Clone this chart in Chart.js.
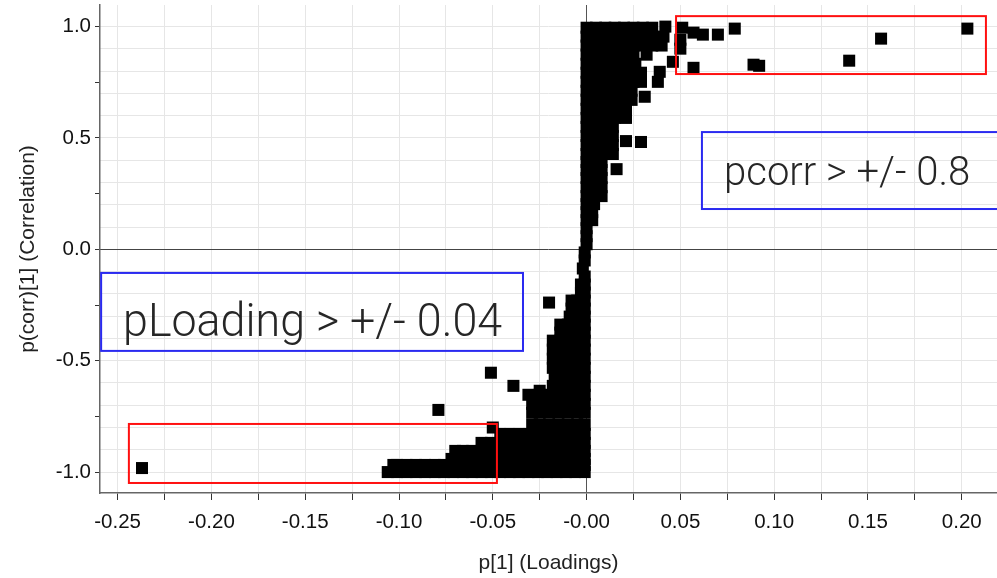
<!DOCTYPE html>
<html>
<head>
<meta charset="utf-8">
<script src="https://cdn.jsdelivr.net/npm/chart.js@4.4.0/dist/chart.umd.min.js"></script>
<style>
    html, body { margin: 0; padding: 0; background: #fff; }
    #wrap { width: 997px; height: 578px; }
</style>
</head>
<body>
<div id="wrap"><canvas id="loadings" width="997" height="578"></canvas></div>
<script>
// axis ranges (p[1] loadings / p(corr)[1] correlation)
var xRange = [-0.2594, 0.2188];
var yRange = [-1.094, 1.097];

// dense upper branch: one y per row, the x of the squares in it
var upperRowY = [0.995, 0.955, 0.915, 0.874, 0.833, 0.793, 0.752, 0.712, 0.671, 0.631, 0.590, 0.550, 0.509,
    0.468, 0.428, 0.392, 0.356, 0.320, 0.279, 0.239, 0.203, 0.167, 0.131, 0.095, 0.059, 0.023];
var upperRowX = [
    [0.000, 0.005, 0.010, 0.015, 0.020, 0.025, 0.030, 0.035],
    [0.000, 0.005, 0.010, 0.015, 0.020, 0.025, 0.030, 0.035, 0.041],
    [0.000, 0.005, 0.010, 0.015, 0.020, 0.025, 0.030, 0.035, 0.040],
    [0.000, 0.005, 0.010, 0.015, 0.020, 0.025, 0.032],
    [0.000, 0.005, 0.010, 0.015, 0.020, 0.026],
    [0.000, 0.005, 0.010, 0.015, 0.020, 0.025, 0.029],
    [0.000, 0.005, 0.010, 0.015, 0.020, 0.025, 0.029],
    [0.000, 0.005, 0.010, 0.015, 0.020, 0.024],
    [0.000, 0.005, 0.010, 0.015, 0.020, 0.024],
    [0.000, 0.005, 0.010, 0.015, 0.021],
    [0.000, 0.005, 0.010, 0.015, 0.021],
    [0.000, 0.005, 0.010, 0.014],
    [0.000, 0.005, 0.010, 0.014],
    [0.000, 0.005, 0.010, 0.014],
    [0.000, 0.005, 0.010, 0.014],
    [0.000, 0.004, 0.008],
    [0.000, 0.004, 0.008],
    [0.000, 0.004, 0.008],
    [0.000, 0.004, 0.008],
    [0.000, 0.004, 0.008],
    [0.000, 0.004],
    [0.000, 0.003],
    [0.000, 0.003],
    [0.000],
    [0.000],
    [0.000]
];

// dense lower branch
var lowerRowY = [-0.014, -0.050, -0.086, -0.122, -0.158, -0.194, -0.230, -0.266, -0.302, -0.338, -0.374,
    -0.410, -0.450, -0.491, -0.532, -0.572, -0.613, -0.653, -0.694, -0.734, -0.788, -0.829, -0.869,
    -0.905, -0.941, -0.968, -1.000];
var lowerRowX = [
    [-0.001],
    [-0.001],
    [-0.002],
    [-0.001],
    [-0.001, -0.003],
    [-0.001, -0.003],
    [-0.001, -0.005, -0.008],
    [-0.001, -0.005, -0.008],
    [-0.001, -0.005, -0.009],
    [-0.001, -0.005, -0.010, -0.014],
    [-0.001, -0.005, -0.010, -0.014],
    [-0.001, -0.005, -0.010, -0.014, -0.018],
    [-0.001, -0.005, -0.010, -0.014, -0.018],
    [-0.001, -0.005, -0.010, -0.014, -0.018],
    [-0.001, -0.005, -0.010, -0.014, -0.018],
    [-0.001, -0.005, -0.010, -0.014, -0.017],
    [-0.001, -0.005, -0.010, -0.014, -0.018],
    [-0.001, -0.005, -0.010, -0.015, -0.020, -0.025, -0.031],
    [-0.001, -0.005, -0.010, -0.015, -0.020, -0.025, -0.029],
    [-0.001, -0.005, -0.010, -0.015, -0.020, -0.025, -0.029],
    [-0.001, -0.005, -0.010, -0.015, -0.020, -0.025, -0.029],
    [-0.001, -0.006, -0.011, -0.016, -0.021, -0.026, -0.031, -0.036, -0.041, -0.046],
    [-0.001, -0.006, -0.011, -0.016, -0.021, -0.026, -0.031, -0.036, -0.041, -0.046, -0.051, -0.056],
    [-0.001, -0.006, -0.011, -0.016, -0.021, -0.026, -0.031, -0.036, -0.041, -0.046, -0.051, -0.056,
        -0.061, -0.066, -0.070],
    [-0.001, -0.006, -0.011, -0.016, -0.021, -0.026, -0.031, -0.036, -0.041, -0.046, -0.051, -0.056,
        -0.061, -0.066, -0.072],
    [-0.001, -0.006, -0.011, -0.016, -0.021, -0.026, -0.031, -0.036, -0.041, -0.046, -0.051, -0.056,
        -0.061, -0.066, -0.071, -0.076, -0.081, -0.086, -0.091, -0.096, -0.101, -0.103],
    [-0.001, -0.006, -0.011, -0.016, -0.021, -0.026, -0.031, -0.036, -0.041, -0.046, -0.051, -0.056,
        -0.061, -0.066, -0.071, -0.076, -0.081, -0.086, -0.091, -0.096, -0.101, -0.106]
];

// isolated squares [p1, pcorr]
var outliersTop = [
    [0.203, 0.991], [0.157, 0.946], [0.140, 0.847], [0.092, 0.824], [0.089, 0.829], [0.079, 0.991],
    [0.070, 0.964], [0.062, 0.964], [0.057, 0.973], [0.057, 0.815], [0.051, 0.995], [0.050, 0.941],
    [0.050, 0.901], [0.046, 0.842], [0.042, 1.000], [0.039, 0.797], [0.038, 0.752], [0.031, 0.685],
    [0.021, 0.608], [0.021, 0.486], [0.029, 0.482], [0.016, 0.360]
];
var outliersBottom = [
    [-0.237, -0.982], [-0.079, -0.721], [-0.051, -0.554], [-0.039, -0.613], [-0.025, -0.635],
    [-0.020, -0.239], [-0.050, -0.800]
];

// threshold frames and captions, in data units
var noteBoxes = [
    {x0: 0.0477, x1: 0.2129, y0: 1.047, y1: 0.787, color: '#ff1010'},
    {x0: 0.0615, x1: 0.2300, y0: 0.5265, y1: 0.181, color: '#2a2af0'},
    {x0: -0.244, x1: -0.0478, y0: -0.784, y1: -1.049, color: '#ff1010'},
    {x0: -0.2588, x1: -0.0339, y0: -0.106, y1: -0.456, color: '#2a2af0'}
];
var noteTexts = [
    {text: 'pLoading > +/- 0.04', x: -0.2471, y: -0.389, size: 46, width: 379},
    {text: 'pcorr > +/- 0.8', x: 0.0733, y: 0.289, size: 40, width: 270}
];

var points = [];
upperRowY.forEach(function (y, i) {
    upperRowX[i].forEach(function (x) { points.push({x: x, y: y}); });
});
lowerRowY.forEach(function (y, i) {
    lowerRowX[i].forEach(function (x) { points.push({x: x, y: y}); });
});
outliersTop.concat(outliersBottom).forEach(function (p) {
    points.push({x: p[0], y: p[1]});
});

var boxNotes = {
    id: 'boxNotes',
    afterDatasetsDraw: function (chart) {
        var ctx = chart.ctx;
        var xs = chart.scales.x, ys = chart.scales.y;
        ctx.save();
        noteBoxes.forEach(function (b) {
            var l = xs.getPixelForValue(b.x0), r = xs.getPixelForValue(b.x1);
            var t = ys.getPixelForValue(b.y0), btm = ys.getPixelForValue(b.y1);
            ctx.strokeStyle = b.color;
            ctx.lineWidth = 2;
            ctx.strokeRect(l, t, r - l, btm - t);
        });
        ctx.fillStyle = '#262626';
        ctx.textBaseline = 'alphabetic';
        ctx.textAlign = 'left';
        noteTexts.forEach(function (n) {
            ctx.font = '300 ' + n.size + 'px Roboto, "Open Sans", sans-serif';
            ctx.fillText(n.text, xs.getPixelForValue(n.x), ys.getPixelForValue(n.y), n.width);
        });
        ctx.restore();
    }
};

Chart.defaults.font.family = '"Liberation Sans", Arial, sans-serif';

function isMultiple(v, step) {
    var q = v / step;
    return Math.abs(q - Math.round(q)) < 1e-6;
}

new Chart(document.getElementById('loadings'), {
    type: 'scatter',
    data: {
        datasets: [{
            label: 'p[1]',
            data: points,
            pointStyle: 'rect',
            pointRadius: 8.5,
            pointHoverRadius: 8.5,
            backgroundColor: '#000',
            borderColor: '#000',
            borderWidth: 0
        }]
    },
    options: {
        responsive: false,
        animation: false,
        events: [],
        layout: {autoPadding: false, padding: {top: 5, right: 0, bottom: 0, left: 0}},
        plugins: {
            legend: {display: false},
            tooltip: {enabled: false}
        },
        scales: {
            x: {
                type: 'linear',
                position: 'bottom',
                min: xRange[0],
                max: xRange[1],
                ticks: {
                    stepSize: 0.025,
                    includeBounds: false,
                    autoSkip: false,
                    maxRotation: 0,
                    padding: 10,
                    color: '#111',
                    font: {size: 20.5},
                    callback: function (v) {
                        if (!isMultiple(v, 0.05)) {
                            return '';
                        }
                        return v === 0 ? '-0.00' : v.toFixed(2);
                    }
                },
                grid: {
                    color: function (c) {
                        return c.tick && Math.abs(c.tick.value) < 1e-9 ? '#555' : '#e6e6e6';
                    },
                    tickColor: '#333',
                    tickLength: 7
                },
                border: {display: true, color: '#666', width: 1.5},
                title: {
                    display: true,
                    text: 'p[1] (Loadings)',
                    color: '#222',
                    font: {size: 21},
                    padding: {top: 0, bottom: 2}
                },
                afterFit: function (s) {
                    s.height = 85;
                    s.paddingLeft = 0;
                    s.paddingRight = 0;
                }
            },
            y: {
                type: 'linear',
                position: 'left',
                min: yRange[0],
                max: yRange[1],
                ticks: {
                    stepSize: 0.25,
                    includeBounds: false,
                    autoSkip: false,
                    padding: 4,
                    color: '#111',
                    font: {size: 20.5},
                    callback: function (v) {
                        return isMultiple(v, 0.5) ? v.toFixed(1) : '';
                    }
                },
                grid: {
                    drawOnChartArea: false,
                    drawTicks: true,
                    tickLength: 5,
                    tickColor: '#333'
                },
                border: {display: true, color: '#666', width: 1.5},
                title: {
                    display: true,
                    text: 'p(corr)[1] (Correlation)',
                    color: '#222',
                    font: {size: 21},
                    padding: {top: 16, bottom: 0}
                },
                afterFit: function (s) {
                    s.width = 100;
                    s.paddingTop = 0;
                    s.paddingBottom = 0;
                }
            },
            yGrid: {
                type: 'linear',
                position: 'right',
                min: yRange[0],
                max: yRange[1],
                ticks: {display: false, stepSize: 0.1, includeBounds: false, autoSkip: false},
                grid: {
                    drawTicks: false,
                    color: function (c) {
                        return c.tick && Math.abs(c.tick.value) < 1e-9 ? '#444' : '#e6e6e6';
                    }
                },
                border: {display: false},
                afterFit: function (s) {
                    s.width = 0;
                }
            }
        }
    },
    plugins: [boxNotes]
});
</script>
</body>
</html>
